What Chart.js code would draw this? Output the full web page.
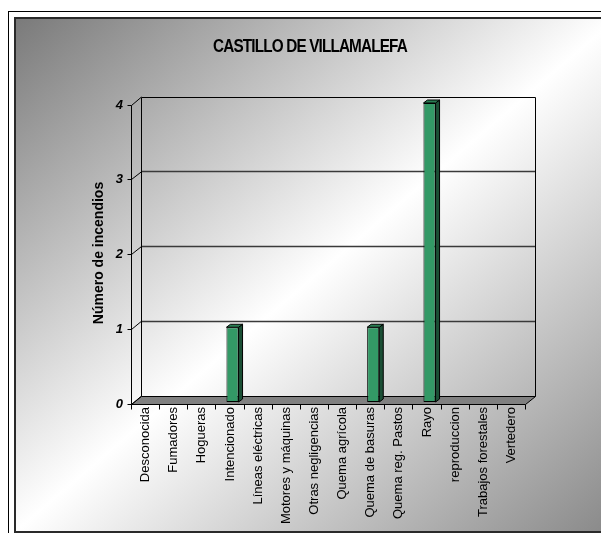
<!DOCTYPE html>
<html>
<head>
<meta charset="utf-8">
<script src="https://cdn.jsdelivr.net/npm/chart.js@4.4.0/dist/chart.umd.min.js"></script>
<style>
  html, body { margin: 0; padding: 0; overflow: hidden; background: #fff; width: 601px; height: 533px; }
  #frame { position: absolute; left: 8px; top: 11px; width: 640px; height: 560px; border-left: 1px solid #000; border-top: 1px solid #000; }
  #panel { position: absolute; left: 14px; top: 17px; width: 600px; height: 512px; border: 2px solid #2a2a2a;
           background: linear-gradient(to bottom right, #7a7a7a 0%, #ffffff 50%, #888888 100%); }
  #chart { position: absolute; left: 0; top: 0; }
</style>
</head>
<body>
<div id="frame"></div>
<div id="panel"></div>
<canvas id="chart" width="601" height="533"></canvas>
<script>
// --- data ---
const categories = [
  'Desconocida', 'Fumadores', 'Hogueras', 'Intencionado', 'Líneas eléctricas',
  'Motores y máquinas', 'Otras negligencias', 'Quema agrícola', 'Quema de basuras',
  'Quema reg. Pastos', 'Rayo', 'reproduccion', 'Trabajos forestales', 'Vertedero'
];
const incendios = [0, 0, 0, 1, 0, 0, 0, 0, 1, 0, 4, 0, 0, 0];
const yTicks = [0, 1, 2, 3, 4];
const chartTitle = 'CASTILLO DE VILLAMALEFA';
const yTitle = 'Número de incendios';

const FONT = '"Liberation Sans", Arial, sans-serif';

// offsets from the bar plane (chartArea) to the front edge and to the back wall
const FRONT = { x: -2.5, y: 2 };
const BACK = { x: 7.5, y: -6 };
const BAR_DEPTH = { x: 4, y: -3 };

const crisp = v => Math.round(v - 0.5) + 0.5;

function line(ctx, x1, y1, x2, y2) {
  ctx.beginPath();
  ctx.moveTo(x1, y1);
  ctx.lineTo(x2, y2);
  ctx.stroke();
}

// Draws the pseudo 3D walls, floor, tick marks and the extra bar faces
const walls3d = {
  id: 'walls3d',
  beforeDatasetsDraw(chart) {
    const { ctx, chartArea: a, scales: { x, y } } = chart;
    const L = a.left, R = a.right;
    const y0 = y.getPixelForValue(0);
    const yMax = y.getPixelForValue(yTicks[yTicks.length - 1]);

    ctx.save();
    ctx.lineWidth = 1;

    // floor
    ctx.beginPath();
    ctx.moveTo(L + FRONT.x, crisp(y0 + FRONT.y));
    ctx.lineTo(R + FRONT.x, crisp(y0 + FRONT.y));
    ctx.lineTo(R + BACK.x, crisp(y0 + BACK.y));
    ctx.lineTo(L + BACK.x, crisp(y0 + BACK.y));
    ctx.closePath();
    ctx.fillStyle = '#808080';
    ctx.fill();
    ctx.strokeStyle = '#000';
    ctx.stroke();

    // back wall gridlines
    ctx.strokeStyle = '#3a3a3a';
    ctx.lineWidth = 1.5;
    yTicks.forEach(v => {
      if (v === 0 || v === yTicks[yTicks.length - 1]) return;
      const py = crisp(y.getPixelForValue(v) + BACK.y);
      line(ctx, L + BACK.x, py, R + BACK.x, py);
    });

    // left wall diagonals and y tick marks
    ctx.strokeStyle = '#000';
    ctx.lineWidth = 1;
    yTicks.forEach(v => {
      const py = y.getPixelForValue(v);
      line(ctx, crisp(L + FRONT.x), crisp(py + FRONT.y), L + BACK.x, py + BACK.y);
      line(ctx, L + FRONT.x - 4, crisp(py + FRONT.y), L + FRONT.x, crisp(py + FRONT.y));
    });

    // wall edges
    line(ctx, crisp(L + FRONT.x), crisp(yMax + FRONT.y), crisp(L + FRONT.x), crisp(y0 + FRONT.y));
    line(ctx, crisp(L + BACK.x), crisp(yMax + BACK.y), crisp(L + BACK.x), crisp(y0 + BACK.y));
    line(ctx, crisp(L + BACK.x), crisp(yMax + BACK.y), crisp(R + BACK.x), crisp(yMax + BACK.y));
    line(ctx, crisp(R + BACK.x), crisp(yMax + BACK.y), crisp(R + BACK.x), crisp(y0 + BACK.y));

    // category tick marks under the floor
    const n = categories.length;
    const step = (x.right - x.left) / n;
    for (let i = 0; i <= n; i++) {
      const px = crisp(x.left + i * step + FRONT.x);
      line(ctx, px, crisp(y0 + FRONT.y), px, crisp(y0 + FRONT.y) + 5);
    }
    ctx.restore();
  },

  afterDatasetsDraw(chart) {
    const { ctx } = chart;
    const meta = chart.getDatasetMeta(0);
    ctx.save();
    ctx.strokeStyle = '#000';
    ctx.lineWidth = 1;
    meta.data.forEach((el, i) => {
      if (!incendios[i]) return;
      const { x: cx, y: top, base, width } = el.getProps(['x', 'y', 'base', 'width'], true);
      const left = cx - width / 2, right = cx + width / 2;
      // side face
      ctx.beginPath();
      ctx.moveTo(right, top);
      ctx.lineTo(right + BAR_DEPTH.x, top + BAR_DEPTH.y);
      ctx.lineTo(right + BAR_DEPTH.x, base + BAR_DEPTH.y);
      ctx.lineTo(right, base);
      ctx.closePath();
      ctx.fillStyle = '#1b4f35';
      ctx.fill();
      ctx.stroke();
      // top face
      ctx.beginPath();
      ctx.moveTo(left, top);
      ctx.lineTo(left + BAR_DEPTH.x, top + BAR_DEPTH.y);
      ctx.lineTo(right + BAR_DEPTH.x, top + BAR_DEPTH.y);
      ctx.lineTo(right, top);
      ctx.closePath();
      ctx.fillStyle = '#2a7d53';
      ctx.fill();
      ctx.stroke();
    });
    ctx.restore();
  },

  afterDraw(chart) {
    const { ctx } = chart;
    ctx.save();
    ctx.fillStyle = '#000';
    ctx.textAlign = 'center';
    ctx.textBaseline = 'middle';

    // condensed bold title
    ctx.save();
    ctx.translate(310, 47);
    ctx.scale(0.85, 1);
    ctx.font = 'bold 18px ' + FONT;
    ctx.letterSpacing = '-1px';
    ctx.fillText(chartTitle, 0, 0);
    ctx.restore();

    ctx.translate(99, 253);
    ctx.rotate(-Math.PI / 2);
    ctx.font = 'bold 14px ' + FONT;
    ctx.fillText(yTitle, 0, 0);
    ctx.restore();
  }
};

new Chart(document.getElementById('chart'), {
  type: 'bar',
  data: {
    labels: categories,
    datasets: [{
      data: incendios,
      backgroundColor: '#339966',
      borderColor: '#000',
      borderWidth: 1,
      borderSkipped: false,
      barPercentage: 0.43,
      categoryPercentage: 1
    }]
  },
  options: {
    responsive: false,
    animation: false,
    devicePixelRatio: 1,
    layout: { padding: { left: 0, top: 103, right: 73, bottom: 0 } },
    plugins: {
      legend: { display: false },
      tooltip: { enabled: false }
    },
    scales: {
      x: {
        grid: { display: false, drawTicks: false },
        border: { display: false },
        ticks: {
          autoSkip: false,
          minRotation: 90,
          maxRotation: 90,
          padding: 5,
          labelOffset: -2.5,
          color: '#000',
          font: { family: FONT, size: 13 }
        },
        afterFit: s => { s.height = 131; }
      },
      y: {
        min: 0,
        max: 4,
        grid: { display: false, drawTicks: false },
        border: { display: false },
        ticks: {
          stepSize: 1,
          padding: 11,
          labelOffset: 2,
          color: '#000',
          font: { family: FONT, size: 13, style: 'italic', weight: 'bold' }
        },
        afterFit: s => { s.width = 134; }
      }
    }
  },
  plugins: [walls3d]
});
</script>
</body>
</html>
